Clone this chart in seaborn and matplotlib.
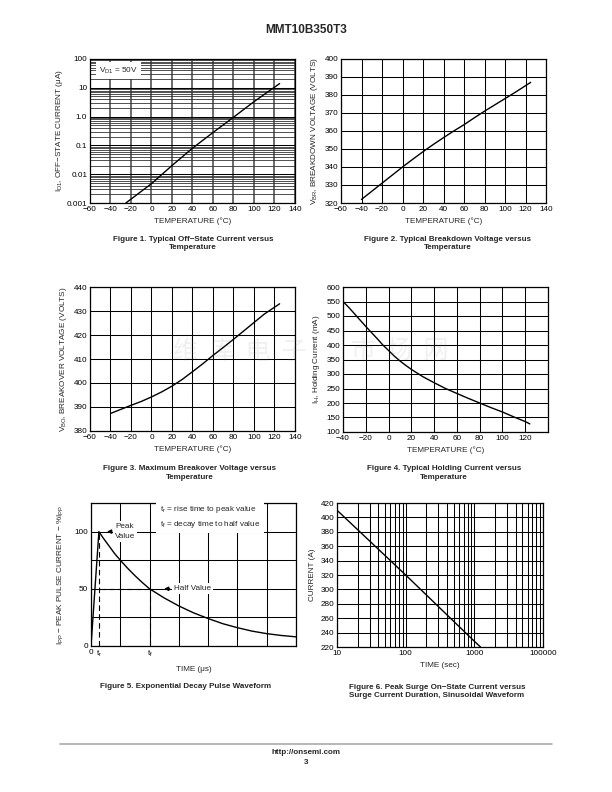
import numpy as np
import pandas as pd
import matplotlib
matplotlib.use("Agg")
import matplotlib.pyplot as plt
import matplotlib.ticker as mticker
import seaborn as sns

# --- data ---
off_temp = [-25, 0, 20, 40, 60, 80, 100, 125]
off_current = [0.001, 0.0047, 0.02, 0.08, 0.28, 0.95, 3.3, 14]

vbr_temp = [-40, -30, -20, -10, 0, 10, 20, 30, 40, 50, 60, 70, 80, 90, 100, 110, 125]
vbr_volts = [322, 326.5, 331, 335.5, 340, 344.3, 348.5, 352.5, 356.3, 360, 363.5,
             367.3, 371, 374.5, 378, 381.5, 387]

vbo_temp = [-40, -30, -20, -10, 0, 10, 20, 30, 40, 50, 60, 70, 80, 90, 100, 110, 125]
vbo_volts = [387.3, 389, 390.7, 392.3, 394.2, 396.3, 398.7, 401.5, 404.7, 408, 411.5,
             414.8, 418.2, 421.7, 425.2, 428.7, 433]

ih_temp = [-40, -35, -30, -25, -20, -15, -10, -5, 0, 5, 10, 15, 20, 30, 40, 50, 60,
           70, 80, 90, 100, 110, 120, 124]
ih_ma = [550, 530, 508, 486, 464, 443, 422, 400, 381, 362, 345, 330, 316, 291, 270,
         250, 233, 216, 200, 184, 169, 152, 136, 128]

pulse_t = [0, 0.27, 0.4, 0.6, 0.8, 1.0, 1.25, 1.5, 1.75, 2.0, 2.5, 3.0, 3.5, 4.0,
           4.5, 5.0, 5.5, 6.0, 6.5, 7.0]
pulse_pct = [0, 100, 95, 88, 81, 75, 68, 61.5, 55.5, 50, 42, 35, 29, 24, 19.5, 16, 13,
             10.8, 9.2, 8]
t_rise, t_fall = 0.27, 2.0

surge_time = [10, 100, 1000, 1230]
surge_amps = [410, 320, 228, 220]

temp_ticks = list(range(-60, 141, 20))
off_ticks = [0.001, 0.01, 0.1, 1, 10, 100]
off_labels = ["0.001", "0.01", "0.1", "1.0", "10", "100"]
surge_ticks = [10, 100, 1000, 10000]
surge_labels = ["10", "100", "1000", "100000"]

sns.set_style("white")
plt.rcParams["font.family"] = ["Liberation Sans", "DejaVu Sans"]
plt.rcParams["mathtext.fontset"] = "custom"
plt.rcParams["mathtext.rm"] = "Liberation Sans"
plt.rcParams["mathtext.it"] = "Liberation Sans:italic"
plt.rcParams["axes.unicode_minus"] = True

FS = 5.9
GRID = dict(color="black", linewidth=0.75)
LINE = dict(color="black", linewidth=1.0)

fig = plt.figure(figsize=(6.12, 7.92), dpi=100)
W, H = 612.0, 792.0


def box(x0, y0, x1, y1):
    return [x0 / W, 1 - y1 / H, (x1 - x0) / W, (y1 - y0) / H]


def style(ax, xlabel, ylabel, xpad=3, ypad=3):
    for s in ax.spines.values():
        s.set_color("black")
        s.set_linewidth(0.9)
    ax.tick_params(which="both", length=0, labelsize=FS, pad=2, colors="black")
    ax.set_xlabel(xlabel, fontsize=FS, labelpad=xpad)
    ax.set_ylabel(ylabel, fontsize=FS, labelpad=ypad)
    ax.set_axisbelow(True)


# Figure 1
ax1 = fig.add_axes(box(90, 59, 295, 203))
sns.lineplot(x=off_temp, y=off_current, ax=ax1, **LINE)
ax1.set_yscale("log")
ax1.set_xlim(-60, 140)
ax1.set_ylim(0.001, 100)
ax1.set_xticks(temp_ticks)
ax1.set_yticks(off_ticks)
ax1.set_yticklabels(off_labels)
ax1.yaxis.set_minor_locator(mticker.LogLocator(base=10, subs=np.arange(2, 10), numticks=30))
ax1.yaxis.set_minor_formatter(mticker.NullFormatter())
ax1.grid(True, which="minor", axis="y", color="#333333", linewidth=0.6)
ax1.grid(True, which="major", axis="y", **GRID)
ax1.grid(True, which="major", axis="x", color="#444444", linewidth=1.1)
style(ax1, "TEMPERATURE (°C)", r"I$_{\rm D1}$, OFF−STATE CURRENT (μA)", ypad=1)
ax1.text(-51, 40, r"V$_{\rm D1}$ = 50V", fontsize=FS, va="center", ha="left",
         bbox=dict(facecolor="white", edgecolor="none", pad=2.5))

# Figure 2
ax2 = fig.add_axes(box(341, 59, 546, 203))
sns.lineplot(x=vbr_temp, y=vbr_volts, ax=ax2, **LINE)
ax2.set_xlim(-60, 140)
ax2.set_ylim(320, 400)
ax2.set_xticks(temp_ticks)
ax2.set_yticks(range(320, 401, 10))
ax2.grid(True, **GRID)
style(ax2, "TEMPERATURE (°C)", r"V$_{\rm BR}$, BREAKDOWN VOLTAGE (VOLTS)")

# Figure 3
ax3 = fig.add_axes(box(90, 287, 295, 431))
sns.lineplot(x=vbo_temp, y=vbo_volts, ax=ax3, **LINE)
ax3.set_xlim(-60, 140)
ax3.set_ylim(380, 440)
ax3.set_xticks(temp_ticks)
ax3.set_yticks(range(380, 441, 10))
ax3.grid(True, **GRID)
style(ax3, "TEMPERATURE (°C)", r"V$_{\rm BO}$, BREAKOVER VOLTAGE (VOLTS)")

# Figure 4
ax4 = fig.add_axes(box(343, 287, 548, 432))
sns.lineplot(x=ih_temp, y=ih_ma, ax=ax4, **LINE)
ax4.set_xlim(-40, 140)
ax4.set_ylim(100, 600)
ax4.set_xticks(range(-40, 141, 20))
ax4.set_xticklabels([f"{v}".replace("-", "−") for v in range(-40, 121, 20)] + [""])
ax4.set_yticks(range(100, 601, 50))
ax4.grid(True, **GRID)
style(ax4, "TEMPERATURE (°C)", r"I$_{\rm H}$, Holding Current (mA)")

# Figure 5
ax5 = fig.add_axes(box(91, 503, 296, 646))
sns.lineplot(x=pulse_t, y=pulse_pct, ax=ax5, **LINE)
ax5.set_xlim(0, 7)
ax5.set_ylim(0, 125)
ax5.set_xticks([0, t_rise, t_fall])
ax5.set_xticklabels(["0", r"t$_{\rm r}$", r"t$_{\rm f}$"])
ax5.set_yticks([0, 50, 100])
ax5.xaxis.set_minor_locator(mticker.MultipleLocator(1))
ax5.yaxis.set_minor_locator(mticker.MultipleLocator(25))
ax5.xaxis.remove_overlapping_locs = False
ax5.yaxis.remove_overlapping_locs = False
ax5.grid(True, which="minor", **GRID)
style(ax5, "TIME (μs)", r"I$_{\rm PP}$ − PEAK PULSE CURRENT − %I$_{\rm PP}$", xpad=5, ypad=6)
dash = dict(color="black", linewidth=0.8, linestyle=(0, (5, 3)))
ax5.plot([t_rise, t_rise], [0, 100], **dash)
ax5.plot([0, t_fall], [50, 50], **dash)
ax5.plot([t_fall, t_fall], [0, 50], **dash)
ax5.annotate("", xy=(0.45, 100), xytext=(0.8, 100),
             arrowprops=dict(arrowstyle="-|>", color="black", lw=0.9, mutation_scale=6))
ax5.text(0.82, 100, "Peak\nValue", fontsize=FS, va="center", ha="left", linespacing=1.5,
         bbox=dict(facecolor="white", edgecolor="none", pad=1.5))
ax5.annotate("", xy=(2.4, 50), xytext=(2.78, 50),
             arrowprops=dict(arrowstyle="-|>", color="black", lw=0.9, mutation_scale=6))
ax5.text(2.82, 50, "Half Value", fontsize=FS, va="center", ha="left",
         bbox=dict(facecolor="white", edgecolor="none", pad=1.5))
ax5.text(2.35, 113, "t$_{\\rm r}$ = rise time to peak value\nt$_{\\rm f}$ = decay time to half value",
         fontsize=FS, va="center", ha="left", linespacing=1.6,
         bbox=dict(facecolor="white", edgecolor="none", pad=2.5))

# Figure 6
ax6 = fig.add_axes(box(337, 503, 543, 647))
sns.lineplot(x=surge_time, y=surge_amps, ax=ax6, **LINE)
ax6.set_xscale("log")
ax6.set_xlim(10, 10000)
ax6.set_ylim(220, 420)
ax6.set_xticks(surge_ticks)
ax6.set_xticklabels(surge_labels)
ax6.xaxis.set_minor_locator(mticker.LogLocator(base=10, subs=np.arange(2, 10), numticks=30))
ax6.xaxis.set_minor_formatter(mticker.NullFormatter())
ax6.set_yticks(range(220, 421, 20))
ax6.grid(True, which="major", **GRID)
ax6.grid(True, which="minor", axis="x", **GRID)
style(ax6, "TIME (sec)", "CURRENT (A)", xpad=4)

# page text
fig.text(306 / W, 1 - 30 / H, "MMT10B350T3", ha="center", va="center",
         fontsize=8.5, fontweight="bold")
caps = [
    (193, 243.5, "Figure 1. Typical Off−State Current versus\nTemperature"),
    (448, 243.5, "Figure 2. Typical Breakdown Voltage versus\nTemperature"),
    (189.5, 473, "Figure 3. Maximum Breakover Voltage versus\nTemperature"),
    (444, 473, "Figure 4. Typical Holding Current versus\nTemperature"),
    (185.5, 686, "Figure 5. Exponential Decay Pulse Waveform"),
    (437, 691.5, "Figure 6. Peak Surge On−State Current versus\nSurge Current Duration, Sinusoidal Waveform"),
]
for cx, cy, s in caps:
    fig.text(cx / W, 1 - cy / H, s, ha="center", va="center", fontsize=5.8,
             fontweight="bold", linespacing=1.3)

fig.add_artist(plt.Line2D([60 / W, 552 / W], [1 - 744 / H, 1 - 744 / H],
                          color="#aaaaaa", linewidth=1.2))
fig.text(306 / W, 1 - 752 / H, "http://onsemi.com", ha="center", va="center",
         fontsize=5.8, fontweight="bold")
fig.text(306 / W, 1 - 762 / H, "3", ha="center", va="center",
         fontsize=5.8, fontweight="bold")

# faint watermark, split around the Figure 4 axis labels
wm = dict(ha="center", va="center", fontsize=18, color="#888888", alpha=0.12,
          family=["Noto Sans CJK SC", "DejaVu Sans"])
fig.text(240 / W, 1 - 352 / H, "维  库  电  子", **wm)
fig.text(400 / W, 1 - 352 / H, "市  场  网", **wm)

fig.savefig("out.png", dpi=100)
